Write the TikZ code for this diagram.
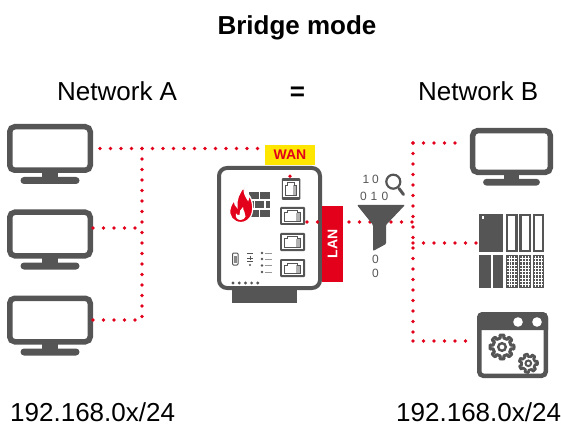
\documentclass[tikz,border=0pt]{standalone}
\usepackage{fontspec}
\setmainfont{Liberation Sans}
\usetikzlibrary{calc}
\definecolor{icongray}{RGB}{85,85,85}
\definecolor{dotred}{RGB}{226,0,26}
\definecolor{wanyellow}{RGB}{255,230,0}
\begin{document}
\begin{tikzpicture}[x=1pt,y=-1pt,
  hitbox/.style={inner sep=0pt, outer sep=0pt, draw=none},
  reddots/.style={draw=dotred, line width=3.8pt, line cap=round, dash pattern=on 0pt off 10.5pt},
  biglabel/.style={inner sep=0pt, font=\fontsize{26}{30}\selectfont},
  bits/.style={inner sep=0pt, text=icongray, font=\fontsize{12}{12}\selectfont},
  tag/.style={inner sep=0pt, font=\bfseries\fontsize{14}{14}\selectfont},
  gearline/.style={draw=icongray, fill=white, line width=3pt, line join=round},
  monitor/.pic={
    \draw[icongray, line width=5.5pt, rounded corners=5pt] (-40.25,-21.75) rectangle (40.25,21.75);
    \fill[icongray] (-8,23) rectangle (8,30);
    \fill[icongray, rounded corners=3.5pt] (-29.5,28.5) rectangle (29.5,35.5);
  },
  jack/.pic={
    \fill[icongray, rounded corners=1pt] (-12.5,-9) rectangle (12.5,9);
    \fill[white] (-10.3,-6.8) rectangle (10.3,6.8);
    \fill[icongray!45] (3,-3) rectangle (8,5.5);
    \draw[icongray, line width=1pt] (-8,-3) -- (-5,-3) -- (-5,-5) -- (5,-5) -- (5,-3) -- (8,-3) -- (8,5.5) -- (-8,5.5) -- cycle;
  }]
\useasboundingbox (0,0) rectangle (561,427);

% ---------- titles and captions ----------
\node[biglabel, anchor=base, font=\bfseries\fontsize{26}{30}\selectfont] (title) at (297,35) {Bridge mode};
\node[biglabel, anchor=base west] (netA) at (57,101) {Network A};
\node[biglabel, anchor=base, font=\bfseries\fontsize{26}{30}\selectfont] (eq) at (297.5,101) {=};
\node[biglabel, anchor=base west] (netB) at (418,101) {Network B};
\node[biglabel, anchor=base west] (ipA) at (10,421.5) {192.168.0x/24};
\node[biglabel, anchor=base west] (ipB) at (396,421.5) {192.168.0x/24};

% ---------- hosts of network A ----------
\pic at (50,148.5) {monitor};
\pic at (50,234) {monitor};
\pic at (50,320) {monitor};
\node[hitbox, minimum width=86pt, minimum height=49pt] (pcA1) at (50,148.5) {};
\node[hitbox, minimum width=86pt, minimum height=49pt] (pcA2) at (50,234) {};
\node[hitbox, minimum width=86pt, minimum height=49pt] (pcA3) at (50,320) {};

% ---------- hosts of network B ----------
\pic[xscale=0.965, yscale=0.96] at (511.5,151.5) {monitor};
\node[hitbox, minimum width=83pt, minimum height=47pt] (pcB) at (511.5,151.5) {};

% PLC rack
\node[hitbox, minimum width=66pt, minimum height=74pt] (plc) at (512,251) {};
\fill[icongray] (479,214) rectangle (503,252);
\fill[white] (481.5,216.5) rectangle (484,219);
\fill[icongray] (479,255) rectangle (490.5,288);
\fill[icongray] (492.5,255) rectangle (503,288);
\foreach \mx in {506,519.3,532.5}{
  \fill[icongray] (\mx,214) rectangle ({\mx+11.5},252);
  \fill[white] ({\mx+2.3},216.5) rectangle ({\mx+9.2},249.5);
  \fill[icongray] (\mx,255) rectangle ({\mx+11.5},288);
  \foreach \gx in {2.9,5.75,8.6}
    \draw[white, line width=0.7pt] ({\mx+\gx},256) -- ({\mx+\gx},287);
  \foreach \gy in {258.3,261.6,264.9,268.2,271.5,274.8,278.1,281.4,284.7}
    \draw[white, line width=0.7pt] ({\mx+1},\gy) -- ({\mx+10.5},\gy);
}

% application window with gears
\node[hitbox, minimum width=71pt, minimum height=66pt] (app) at (512.5,345) {};
\fill[icongray] (477,330) [rounded corners=5pt] -- (477,312) -- (548,312) [sharp corners] -- (548,330) -- cycle;
\draw[icongray, line width=4.5pt, rounded corners=4pt] (479.25,314.25) rectangle (545.75,375.75);
\fill[white] (518,322) circle (4.8);
\fill[white] (537,322) circle (4.8);
\draw[gearline] plot[domain=0:360, samples=361, variable=\t]
  ({502+(9+3*(cos(8*\t)>0.1))*cos(\t)}, {347+(9+3*(cos(8*\t)>0.1))*sin(\t)}) -- cycle;
\draw[icongray, line width=2.4pt] (502,347) circle (3.8);
\draw[gearline, line width=2.6pt] plot[domain=0:360, samples=361, variable=\t]
  ({528.3+(6.8+2.4*(cos(7*\t+20)>0.1))*cos(\t)}, {363.3+(6.8+2.4*(cos(7*\t+20)>0.1))*sin(\t)}) -- cycle;
\draw[icongray, line width=2pt] (528.3,363.3) circle (2.8);

% ---------- firewall appliance ----------
\fill[icongray] (232,286) rectangle (297,303);
\node[draw=icongray, fill=white, line width=4pt, rounded corners=8pt, minimum width=101pt, minimum height=120pt, inner sep=0pt] (fw) at (269.5,228) {};

% brick wall
\fill[icongray] (249,192) rectangle (258.5,199.5);
\fill[icongray] (260,192) rectangle (270,199.5);
\fill[icongray] (249,201) rectangle (253.5,208.5);
\fill[icongray] (255,201) rectangle (264,208.5);
\fill[icongray] (265.5,201) rectangle (270,208.5);
\fill[icongray] (249,210) rectangle (258.5,217);
\fill[icongray] (260,210) rectangle (270,217);
% flame
\fill[dotred, draw=white, line width=1.2pt] (241,222.5)
  .. controls (233,222.5) and (228.5,216) .. (230,209)
  .. controls (230.8,205) and (233,202) .. (234.5,200)
  .. controls (234.5,204) and (235.5,206) .. (237,207)
  .. controls (236,200) and (239,193) .. (244,187)
  .. controls (243.5,193) and (246,197) .. (248,200)
  .. controls (249,198) and (249,196) .. (248.5,194.5)
  .. controls (253,200) and (254,210) .. (251,216)
  .. controls (249,220) and (245,222.5) .. (241,222.5) -- cycle;
\fill[white] (240.5,220) .. controls (237,220) and (235,217) .. (236,213.5)
  .. controls (237,215) and (238.5,215.5) .. (239.5,215)
  .. controls (239,212) and (240.5,209) .. (243,207)
  .. controls (243,211) and (246,213) .. (245.5,216.5)
  .. controls (245,218.5) and (243,220) .. (240.5,220) -- cycle;

% status panel
\draw[icongray, line width=1pt, rounded corners=1pt] (232.5,253) rectangle (238,265);
\fill[icongray!70] (234,255.5) rectangle (236.5,262.5);
\draw[icongray, line width=1pt] (247,253) -- (253,253);
\draw[icongray, line width=1pt] (250,255.5) -- (250,259.5) (247,258) -- (253,258);
\draw[icongray, line width=1pt] (247,261) -- (253,261);
\fill[icongray] (250,265) circle (1.2);
\foreach \ly in {253,259,265.5,272}{
  \fill[icongray] (262,\ly) circle (1.3);
  \draw[icongray!60, line width=0.8pt] (264.5,\ly) -- (272,\ly);
}
\foreach \k in {0,...,4}
  \fill[icongray] ({233+6.2*\k},283) circle (1.6);

% ports
\pic[xscale=0.74, yscale=1.22] at (291,189) {jack};
\pic at (292.5,216) {jack};
\pic at (292.5,242) {jack};
\pic at (292.5,268) {jack};
\node[hitbox, minimum width=18pt, minimum height=22pt] (port0) at (291,189) {};
\node[hitbox, minimum width=25pt, minimum height=18pt] (port1) at (292.5,216) {};
\node[hitbox, minimum width=25pt, minimum height=18pt] (port2) at (292.5,242) {};
\node[hitbox, minimum width=25pt, minimum height=18pt] (port3) at (292.5,268) {};

% WAN tag
\node[tag, fill=wanyellow, text=dotred, minimum width=50pt, minimum height=20pt] (wan) at (290,155) {WAN};

% ---------- dotted links ----------
\coordinate (jA1) at (142,148.5);
\coordinate (jA2) at (142,228);
\coordinate (jA3) at (142,320);
\coordinate (jB1) at (413,143);
\coordinate (jB2) at (413,222);
\coordinate (jB3) at (413,243);
\coordinate (jB4) at (413,341);

\draw[reddots] ([xshift=7pt]pcA1.east) -- (pcA1.east -| wan.west);
\draw[reddots] (jA1) -- (jA3);
\draw[reddots] (pcA2.east |- jA2) -- (jA2);
\draw[reddots] (pcA3.east |- jA3) -- (jA3);
\draw[reddots] ($(wan.south)+(0,11)$) -- (port0.north);

\draw[reddots] ([xshift=2pt]port1.east |- jB2) -- (jB2);
\draw[reddots] (jB1) -- (jB4);
\draw[reddots, shorten >=9pt] (jB1) -- (pcB.west |- jB1);
\draw[reddots, shorten >=2pt] (jB3) -- (plc.west |- jB3);
\draw[reddots, shorten >=5pt] (jB4) -- (app.west |- jB4);

% LAN tag
\node[fill=dotred, minimum width=21pt, minimum height=76pt, inner sep=0pt] (lan) at (332.5,244) {};
\node[tag, rotate=90, text=white] (lantext) at (lan.center) {LAN};

% ---------- packet filter ----------
\node[hitbox, minimum width=48pt, minimum height=46pt] (filter) at (381,228) {};
\fill[icongray, rounded corners=1pt] (357,205) -- (405,205) -- (386,225) -- (386,244) -- (373,251) -- (373,225) -- cycle;
\node[bits] (bit1) at (366,179.3) {1};
\node[bits] (bit2) at (375.5,179.3) {0};
\node[bits] (bit3) at (363.5,196) {0};
\node[bits] (bit4) at (374,196) {1};
\node[bits] (bit5) at (385,196) {0};
\node[bits] (bit6) at (375.5,259.3) {0};
\node[bits] (bit7) at (375.5,273.3) {0};
\draw[icongray, line width=2.2pt] (393.3,181.7) circle (7);
\draw[icongray, line width=3pt, line cap=round] (399,188.5) -- (403.5,194.5);
\end{tikzpicture}
\end{document}
